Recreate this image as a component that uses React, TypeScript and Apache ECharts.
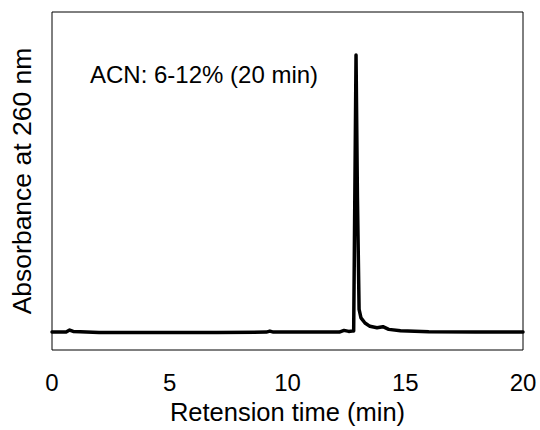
import React, { useEffect, useRef } from "react";
import * as echarts from "echarts";

const timeMin = [0, 0.4, 0.6, 0.75, 0.9, 1.2, 2, 3, 5, 7, 9.1, 9.25, 9.4, 11, 12.2, 12.4, 12.6, 12.75, 12.81, 12.91, 12.97, 13.04, 13.12, 13.29, 13.5, 13.8, 14.05, 14.3, 14.8, 16, 18, 20];
const absorbance = [5.3, 5.3, 5.3, 5.9, 5.5, 5.4, 5.2, 5.2, 5.2, 5.2, 5.3, 5.6, 5.3, 5.3, 5.3, 5.8, 5.5, 5.6, 5.6, 87.3, 45, 12, 9.5, 8.0, 7.0, 6.6, 6.9, 6.1, 5.7, 5.4, 5.3, 5.3];
const xTicks = [0, 5, 10, 15, 20];
const annotation = "ACN: 6-12% (20 min)";

export default function App() {
  const ref = useRef<HTMLDivElement>(null);
  useEffect(() => {
    const chart = echarts.init(ref.current!, null, { renderer: "svg" });
    const font = "Liberation Sans, Arial, sans-serif";
    chart.setOption({
      animation: false,
      grid: {
        left: 52,
        right: 17,
        top: 12,
        bottom: 79,
        show: true,
        borderColor: "#000",
        borderWidth: 1,
        backgroundColor: "transparent",
      },
      xAxis: {
        type: "value",
        min: xTicks[0],
        max: xTicks[xTicks.length - 1],
        interval: 5,
        axisLine: { show: false },
        axisTick: { show: false },
        splitLine: { show: false },
        axisLabel: { color: "#000", fontSize: 24, fontFamily: font, margin: 20 },
        name: "Retension time (min)",
        nameLocation: "middle",
        nameGap: 49,
        nameTextStyle: { color: "#000", fontSize: 25.5, fontFamily: font },
      },
      yAxis: {
        type: "value",
        min: 0,
        max: 100,
        axisLine: { show: false },
        axisTick: { show: false },
        splitLine: { show: false },
        axisLabel: { show: false },
        name: "Absorbance at 260 nm",
        nameLocation: "middle",
        nameGap: 17,
        nameTextStyle: { color: "#000", fontSize: 26.5, fontFamily: font },
      },
      graphic: [
        {
          type: "text",
          left: 90,
          top: 62,
          style: { text: annotation, fill: "#000", fontSize: 24, fontFamily: font },
        },
      ],
      series: [
        {
          type: "line",
          data: timeMin.map((t, i) => [t, absorbance[i]]),
          showSymbol: false,
          smooth: false,
          lineStyle: { color: "#000", width: 3.5, join: "round", cap: "round" },
        },
      ],
    });
    return () => chart.dispose();
  }, []);
  return <div ref={ref} style={{ width: 540, height: 430, position: "absolute", left: 0, top: 0 }} />;
}
